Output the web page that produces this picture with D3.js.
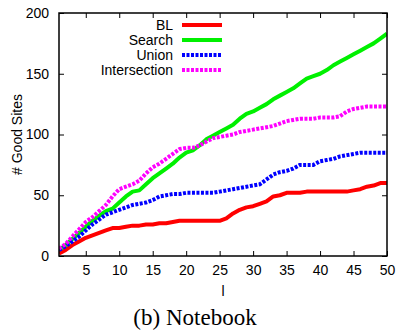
<!DOCTYPE html>
<html>
<head>
<meta charset="utf-8">
<script src="https://cdn.jsdelivr.net/npm/d3@7"></script>
<style>
  body { margin: 0; background: #fff; }
  text { font-family: "Liberation Sans", Arial, sans-serif; }
</style>
</head>
<body>
<svg id="drawing_region"></svg>
<script>
// l = 1..50
var ls = d3.range(1, 51);

var bl = [2,5,9,12,15,17,19,21,23,23, 24,25,25,26,26,27,27,28,29,29,
          29,29,29,29,29,31,35,38,40,41, 43,45,49,50,52,52,52,53,53,53,
          53,53,53,53,54,55,57,58,60,60];
var search = [5,9,14,19,24,29,33,37,39,44, 49,53,54,59,64,68,72,76,81,85,
              87,91,96,99,102,105,108,113,117,119, 122,125,129,132,135,138,142,146,148,150,
              153,157,160,163,166,169,172,175,179,183];
var union = [5,8,12,16,21,26,30,34,36,38, 40,42,43,44,46,49,50,51,51,52,
             52,52,52,52,53,54,55,56,57,58, 59,63,67,69,70,72,75,75,75,78,
             79,80,82,83,84,85,85,85,85,85];
var intersection = [6,10,16,22,28,32,37,42,49,55, 57,59,62,68,73,76,80,84,88,89,
                    89,91,94,97,98,99,100,102,103,104, 105,106,107,109,111,112,113,113,113,114,
                    114,114,115,119,121,122,123,123,123,123];

var seriesNames = ['BL', 'Search', 'Union', 'Intersection'];
var seriesValues = [bl, search, union, intersection];
var colors = ['#ff0000', '#00f000', '#0000ff', '#ff00ff'];
var dashes = [null, null, '3,1.5', '3,1.5'];

var xTicks = [5,10,15,20,25,30,35,40,45,50];
var yTicks = [0,50,100,150,200];

var width = 396;
var height = 334;
var margin = {top:13, right:9, bottom:78, left:59};
var inner_width = width - margin.left - margin.right;
var inner_height = height - margin.top - margin.bottom;

var svg = d3.select('#drawing_region')
    .attr('width', width)
    .attr('height', height);

var chart = svg.append('g')
    .attr('transform', `translate(${margin.left}, ${margin.top})`);

var xscale = d3.scaleLinear().domain([1, 50]).range([0, inner_width]);
var yscale = d3.scaleLinear().domain([0, 200]).range([inner_height, 0]);

// axes with inward ticks (mirrored on top/right)
var xaxis = d3.axisBottom(xscale).tickValues(xTicks).tickSizeInner(-5).tickSizeOuter(0).tickPadding(9);
var yaxis = d3.axisLeft(yscale).tickValues(yTicks).tickSizeInner(-5).tickSizeOuter(0).tickPadding(10);
var xaxis2 = d3.axisTop(xscale).tickValues(xTicks).tickSizeInner(-5).tickSizeOuter(0).tickFormat('');
var yaxis2 = d3.axisRight(yscale).tickValues(yTicks).tickSizeInner(-5).tickSizeOuter(0).tickFormat('');

function styleAxis(g){
  g.select('.domain').remove();
  g.selectAll('line').attr('stroke', '#000').attr('stroke-width', 1);
  g.selectAll('text').attr('font-size', 14).attr('fill', '#000')
    .style('font-family', '"Liberation Sans", Arial, sans-serif');
}

chart.append('g').attr('transform', `translate(0, ${inner_height})`).call(xaxis).call(styleAxis);
chart.append('g').call(yaxis).call(styleAxis);
chart.append('g').call(xaxis2).call(styleAxis);
chart.append('g').attr('transform', `translate(${inner_width}, 0)`).call(yaxis2).call(styleAxis);

// lines
var line = d3.line()
    .x((d, i) => xscale(ls[i]))
    .y(d => yscale(d));

chart.append('defs').append('clipPath').attr('id', 'clip')
  .append('rect').attr('width', inner_width).attr('height', inner_height);

chart.append('g').attr('clip-path', 'url(#clip)')
  .selectAll('path')
  .data(seriesValues)
  .join('path')
  .attr('d', d => line(d))
  .attr('fill', 'none')
  .attr('stroke', (d, i) => colors[i])
  .attr('stroke-width', 4)
  .attr('stroke-linejoin', 'round')
  .attr('stroke-dasharray', (d, i) => dashes[i]);

// frame
chart.append('rect')
  .attr('width', inner_width)
  .attr('height', inner_height)
  .attr('fill', 'none')
  .attr('stroke', '#000')
  .attr('stroke-width', 1.5);

// legend
var legend = svg.append('g');
seriesNames.forEach(function(name, i){
  var yy = 25 + i * 15;
  legend.append('text')
    .attr('x', 173).attr('y', yy).attr('dy', '0.35em')
    .attr('text-anchor', 'end').attr('font-size', 14)
    .text(name);
  legend.append('line')
    .attr('x1', 182).attr('x2', 222).attr('y1', yy).attr('y2', yy)
    .attr('stroke', colors[i]).attr('stroke-width', 4)
    .attr('stroke-dasharray', dashes[i]);
});

// axis titles
svg.append('text')
  .attr('transform', `translate(17, ${margin.top + inner_height / 2}) rotate(-90)`)
  .attr('text-anchor', 'middle').attr('dy', '0.35em').attr('font-size', 14)
  .text('# Good Sites');

svg.append('text')
  .attr('x', margin.left + inner_width / 2).attr('y', 291)
  .attr('text-anchor', 'middle').attr('dy', '0.35em').attr('font-size', 14)
  .text('l');

svg.append('text')
  .attr('x', 195).attr('y', 325)
  .attr('text-anchor', 'middle').attr('font-size', 23)
  .style('font-family', '"Liberation Serif", "Times New Roman", serif')
  .text('(b) Notebook');
</script>
</body>
</html>
